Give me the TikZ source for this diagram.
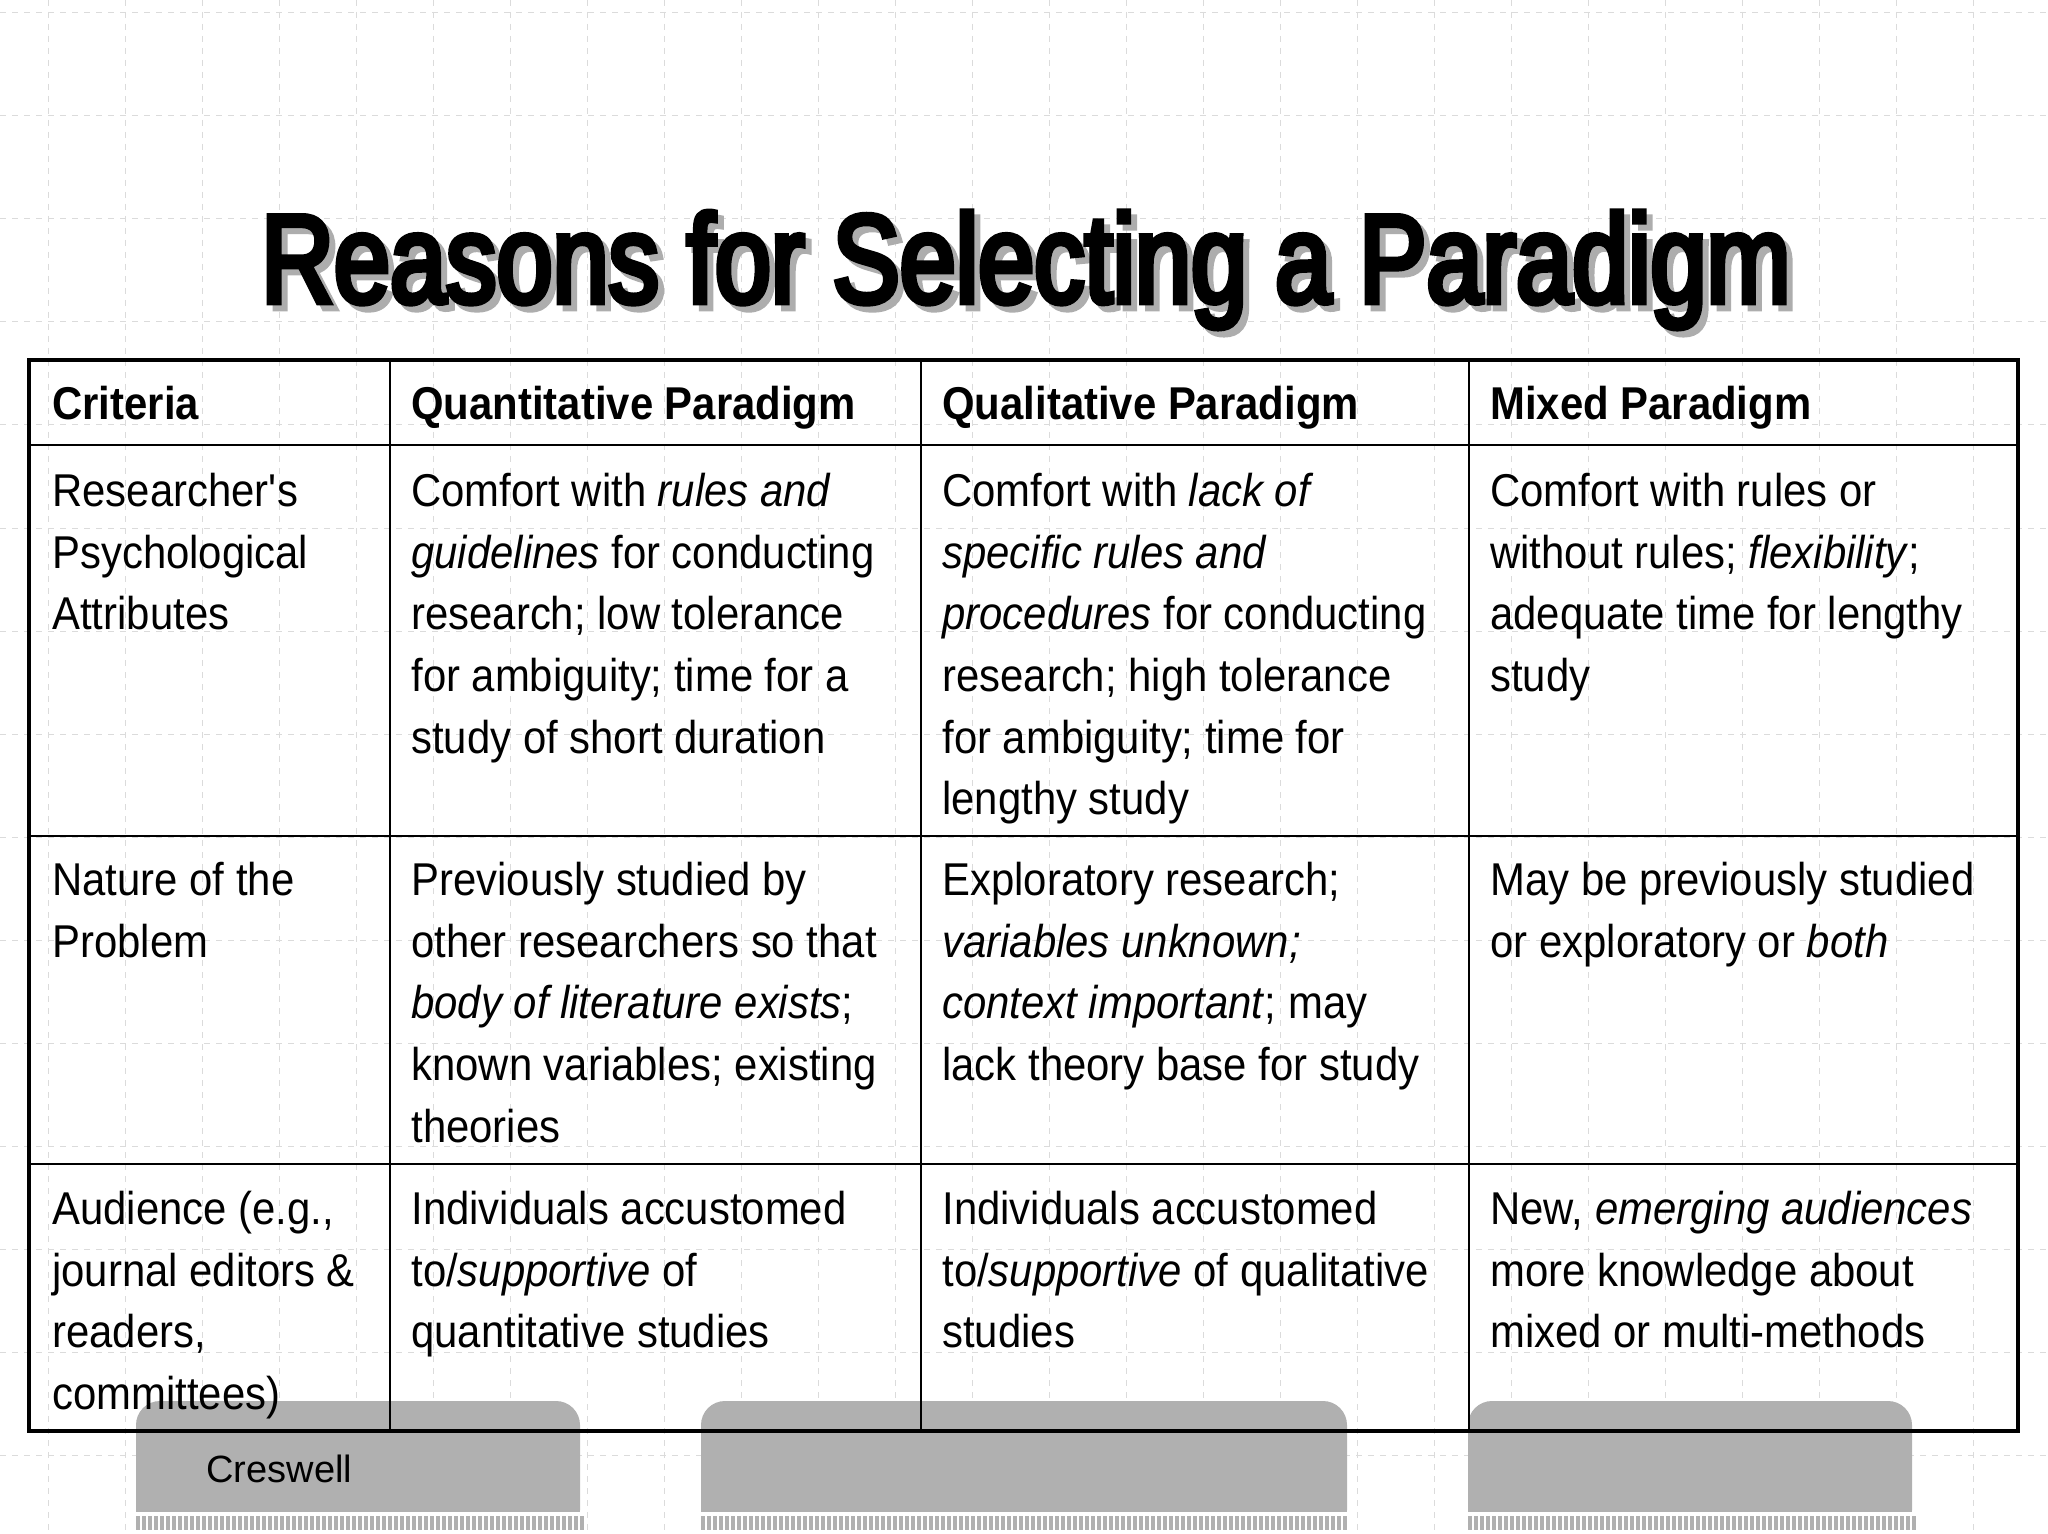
\documentclass[tikz,border=0pt]{standalone}
\usepackage{fontspec}
\setmainfont{Liberation Sans}[FakeStretch=0.91,Ligatures=NoCommon]
\newfontfamily\titlefont{Liberation Sans}[FakeStretch=0.80,FakeBold=4.5]
\newfontfamily\plainfont{Liberation Sans}
\begin{document}
\begin{tikzpicture}[x=0.5pt,y=-0.5pt,
  cell/.style={anchor=north west,inner sep=0pt,align=left,font=\fontsize{23}{30.8}\selectfont},
  hcell/.style={cell,font=\fontsize{23}{30.8}\selectfont\bfseries},
  tab/.style={fill=black!31,draw=none,rounded corners=12pt},
  gridl/.style={black!14,dashed,line width=0.5pt}]
\useasboundingbox (0,0) rectangle (2048,1534);
\fill[white] (0,0) rectangle (2048,1534);
\foreach \x in {48,125,...,2048} \draw[gridl] (\x,0) -- (\x,1534);
\foreach \y in {13,116,...,1534} \draw[gridl] (0,\y) -- (2048,\y);
% tabs
\foreach \a/\b [count=\i] in {136/580,701/1347,1468/1912}{
  \fill[tab] (\a,1534) -- (\a,1401) -- (\b,1401) -- (\b,1534) -- cycle;
  \fill[white] (\a,1512) rectangle (\b,1534);
  \pgfmathsetmacro{\n}{int((\b-\a)/6)}
  \foreach \k in {0,...,\n} \fill[black!31] (\a+\k*6,1516) rectangle (\a+\k*6+4,1530);
}
\node[anchor=west,inner sep=0pt,font=\plainfont\fontsize{19}{22}\selectfont] (cres) at (206,1469) {Creswell};
% title
\node[font=\titlefont\fontsize{63}{70}\selectfont,text=black!32,inner sep=0pt] (titlesh) at (1032,276) {Reasons for Selecting a Paradigm};
\node[font=\titlefont\fontsize{63}{70}\selectfont,inner sep=0pt] (title) at (1026,270) {Reasons for Selecting a Paradigm};
% table
\draw[line width=2pt] (29,360) rectangle (2018,1431);
\foreach \x in {390,921,1469} \draw[line width=1pt] (\x,360) -- (\x,1431);
\foreach \y in {445,836,1164} \draw[line width=1pt] (29,\y) -- (2018,\y);
% header
\node[hcell] (h1) at (52,386) {Criteria};
\node[hcell] (h2) at (411,386) {Quantitative Paradigm};
\node[hcell] (h3) at (942,386) {Qualitative Paradigm};
\node[hcell] (h4) at (1490,386) {Mixed Paradigm};
% row 1
\node[cell] (a1) at (52,473) {Researcher\textquotesingle s\\Psychological\\Attributes};
\node[cell] (a2) at (411,473) {Comfort with \textit{rules and}\\\textit{guidelines} for conducting\\research; low tolerance\\for ambiguity; time for a\\study of short duration};
\node[cell] (a3) at (942,473) {Comfort with \textit{lack of}\\\textit{specific rules and}\\\textit{procedures} for conducting\\research; high tolerance\\for ambiguity; time for\\lengthy study};
\node[cell] (a4) at (1490,473) {Comfort with rules or\\without rules; \textit{flexibility};\\adequate time for lengthy\\study};
% row 2
\node[cell] (b1) at (52,862) {Nature of the\\Problem};
\node[cell] (b2) at (411,862) {Previously studied by\\other researchers so that\\\textit{body of literature exists};\\known variables; existing\\theories};
\node[cell] (b3) at (942,862) {Exploratory research;\\\textit{variables unknown;}\\\textit{context important}; may\\lack theory base for study};
\node[cell] (b4) at (1490,862) {May be previously studied\\or exploratory or \textit{both}};
% row 3
\node[cell] (c1) at (52,1191) {Audience (e.g.,\\journal editors \&\\readers,\\committees)};
\node[cell] (c2) at (411,1191) {Individuals accustomed\\to/\textit{supportive} of\\quantitative studies};
\node[cell] (c3) at (942,1191) {Individuals accustomed\\to/\textit{supportive} of qualitative\\studies};
\node[cell] (c4) at (1490,1191) {New, \textit{emerging audiences}\\more knowledge about\\mixed or multi-methods};
\end{tikzpicture}
\end{document}
